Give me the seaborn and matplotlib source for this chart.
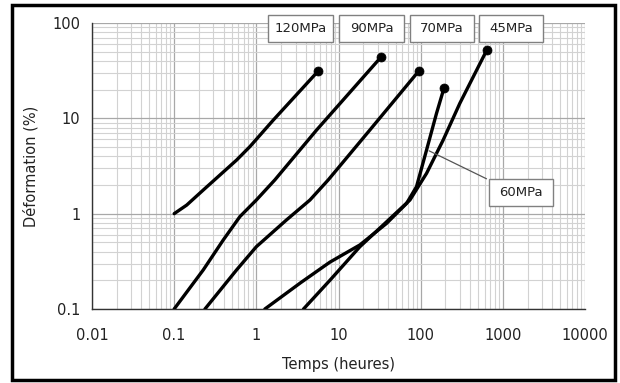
import matplotlib
matplotlib.use("Agg")
import matplotlib.pyplot as plt
import matplotlib.ticker as mticker
from matplotlib.patches import Rectangle
import pandas as pd
import seaborn as sns

# creep curves: time (h) vs strain (%)
t_120 = [0.1, 0.142, 0.226, 0.575, 0.835, 1.61, 5.6]
d_120 = [1.0, 1.23, 1.77, 3.65, 5.05, 9.6, 31.0]

t_90 = [0.1, 0.226, 0.396, 0.63, 1.0, 1.68, 5.42, 33.0]
d_90 = [0.1, 0.257, 0.53, 0.93, 1.39, 2.26, 7.55, 44.0]

t_70 = [0.237, 0.575, 1.0, 2.33, 4.49, 7.5, 24.1, 95.0]
d_70 = [0.1, 0.257, 0.45, 0.86, 1.39, 2.26, 7.55, 31.4]

t_60 = [1.27, 3.5, 7.86, 18.2, 38.4, 67.3, 89.0, 118.0, 156.0, 193.0]
d_60 = [0.1, 0.19, 0.31, 0.47, 0.79, 1.28, 1.92, 4.66, 11.3, 21.0]

t_45 = [3.75, 7.86, 18.2, 38.4, 74.0, 118.0, 188.0, 300.0, 638.0]
d_45 = [0.1, 0.2, 0.45, 0.82, 1.39, 2.65, 5.93, 14.4, 52.0]

labels = ["120MPa", "90MPa", "70MPa", "60MPa", "45MPa"]
x_ticks = [0.01, 0.1, 1, 10, 100, 1000, 10000]
y_ticks = [0.1, 1, 10, 100]

W, H = 620, 383


def fig_xy(px, py):
    return px / W, 1 - py / H


def main() -> None:
    series = {
        "120MPa": (t_120, d_120),
        "90MPa": (t_90, d_90),
        "70MPa": (t_70, d_70),
        "60MPa": (t_60, d_60),
        "45MPa": (t_45, d_45),
    }
    frames = []
    for name, (t, d) in series.items():
        frames.append(pd.DataFrame({"temps": t, "deformation": d, "stress": name}))
    df = pd.concat(frames, ignore_index=True)
    ends = df.groupby("stress", sort=False).tail(1)

    sns.set_style("white")
    plt.rcParams["font.family"] = ["DejaVu Sans"]

    fig = plt.figure(figsize=(W / 100, H / 100), dpi=100)
    ax = fig.add_axes([92 / W, 1 - 309 / H, (585 - 92) / W, (309 - 23) / H])

    sns.lineplot(data=df, x="temps", y="deformation", units="stress",
                 estimator=None, sort=False, color="black", lw=2.4, ax=ax,
                 zorder=3)
    sns.scatterplot(data=ends, x="temps", y="deformation", color="black",
                    s=42, edgecolor="black", ax=ax, zorder=4, legend=False)

    ax.set_xscale("log")
    ax.set_yscale("log")
    ax.set_xlim(x_ticks[0], x_ticks[-1])
    ax.set_ylim(y_ticks[0], y_ticks[-1])
    ax.set_xticks(x_ticks)
    ax.set_yticks(y_ticks)
    ax.xaxis.set_minor_locator(mticker.LogLocator(base=10, subs=range(2, 10)))
    ax.yaxis.set_minor_locator(mticker.LogLocator(base=10, subs=range(2, 10)))
    fmt = mticker.FuncFormatter(lambda v, _: f"{v:g}")
    ax.xaxis.set_major_formatter(fmt)
    ax.yaxis.set_major_formatter(fmt)
    ax.xaxis.set_minor_formatter(mticker.NullFormatter())
    ax.yaxis.set_minor_formatter(mticker.NullFormatter())

    ax.grid(True, which="major", color="#a8a8a8", lw=0.9)
    ax.grid(True, which="minor", color="#d2d2d2", lw=0.8)
    ax.set_axisbelow(True)

    for side in ["top", "right"]:
        ax.spines[side].set_visible(False)
    for side in ["left", "bottom"]:
        ax.spines[side].set_color("#333333")
        ax.spines[side].set_linewidth(1.0)

    ax.tick_params(which="major", direction="inout", length=7, width=0.9,
                   color="#333333", labelsize=10.5, labelcolor="#222222")
    ax.tick_params(which="minor", direction="inout", length=5, width=0.8,
                   color="#333333")
    ax.tick_params(axis="x", which="major", pad=10)
    ax.tick_params(axis="y", which="major", pad=5)

    ax.set_xlabel("Temps (heures)", fontsize=10.5, labelpad=10, color="#222222")
    ax.set_ylabel("Déformation (%)", fontsize=10.5, labelpad=10, color="#222222")

    # stress labels in boxes
    boxes = {
        "120MPa": (268, 15, 333, 42),
        "90MPa": (339, 15, 404, 42),
        "70MPa": (410, 15, 474, 42),
        "45MPa": (479, 15, 543, 42),
        "60MPa": (489, 179, 553, 206),
    }
    for name, (x0, y0, x1, y1) in boxes.items():
        bx, by = fig_xy(x0, y1)
        fig.patches.append(Rectangle((bx, by), (x1 - x0) / W, (y1 - y0) / H,
                                     transform=fig.transFigure, facecolor="white",
                                     edgecolor="#808080", lw=1.0, zorder=5))
        cx, cy = fig_xy((x0 + x1) / 2, (y0 + y1) / 2)
        fig.text(cx, cy, name, ha="center", va="center", fontsize=9.5,
                 color="#222222", zorder=6)

    # leader line for the 60MPa label
    ax.annotate("", xy=(118, 4.7), xycoords="data",
                xytext=fig_xy(489, 180), textcoords="figure fraction",
                arrowprops=dict(arrowstyle="-", color="#555555", lw=0.9),
                zorder=5)

    # black frame around the figure
    fig.patches.append(Rectangle((12 / W, 1 - 380 / H), (615 - 12) / W, (380 - 5) / H,
                                 transform=fig.transFigure, fill=False,
                                 edgecolor="black", lw=2.5, zorder=10))

    fig.savefig("out.png", dpi=100)
    plt.close(fig)


if __name__ == "__main__":
    main()
